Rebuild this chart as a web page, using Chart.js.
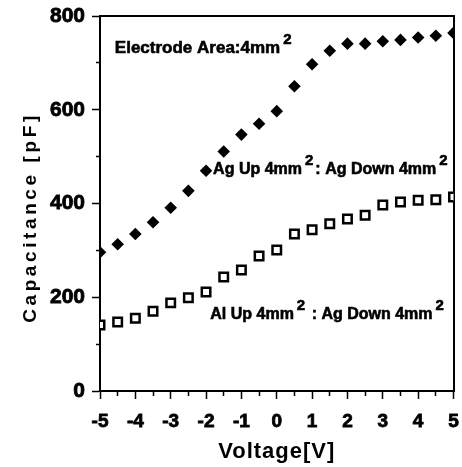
<!DOCTYPE html>
<html><head><meta charset="utf-8">
<script src="https://cdn.jsdelivr.net/npm/chart.js@4"></script>
<style>html,body{margin:0;padding:0;background:#fff}</style>
</head><body>
<canvas id="c" width="462" height="467"></canvas>
<script>
const voltages = [-5,-4.5,-4,-3.5,-3,-2.5,-2,-1.5,-1,-0.5,0,0.5,1,1.5,2,2.5,3,3.5,4,4.5,5];
const agUpAgDown = [296,313,335,360,391,427,470,511,547,570,597,650,697,726,741,741,746,749,754,758,764];
const alUpAgDown = [141,147,155,170,188,199,211,243,258,288,301,335,344,357,367,375,397,403,407,408,414];
const xTickValues = [-5,-4,-3,-2,-1,0,1,2,3,4,5];
const xTickLabels = ['-5','-4','-3','-2','-1','0','1','2','3','4','5'];
const yTickValues = [0,200,400,600,800];
const yTickLabels = ['0','200','400','600','800'];
const notes = [
  {x:-4.58, y:721, size:17, runs:[['Electrode Area:4mm',0],['2',1]]},
  {x:-1.80, y:463, size:16, runs:[['Ag Up 4mm',0],['2',1],[': Ag Down 4mm',0],['2',1]]},
  {x:-1.88, y:154, size:16, runs:[['Al Up 4mm',0],['2',1],[' : Ag Down 4mm',0],['2',1]]}
];

const FONT = '"Liberation Sans", Arial, sans-serif';

function wrapTitle(px, dy){
  return function(scale){
    if(!scale.__wrapped){
      const orig = scale.drawTitle;
      scale.drawTitle = function(...a){
        const c = this.ctx; const prev = c.letterSpacing;
        c.save();
        c.translate(0, dy);
        c.letterSpacing = px; orig.apply(this, a); c.letterSpacing = prev;
        c.restore();
      };
      scale.__wrapped = true;
    }
  };
}

const notePlugin = {
  id: 'notes',
  afterDatasetsDraw(chart){
    const ctx = chart.ctx, xs = chart.scales.x, ys = chart.scales.y;
    ctx.save();
    ctx.fillStyle = '#000';
    ctx.strokeStyle = '#000';
    ctx.lineWidth = 0.6;
    ctx.textBaseline = 'alphabetic';
    ctx.textAlign = 'left';
    ctx.letterSpacing = '0px';
    notes.forEach(n => {
      let px = xs.getPixelForValue(n.x);
      const py = ys.getPixelForValue(n.y);
      n.runs.forEach(([t, sup]) => {
        if (sup) {
          ctx.font = 'bold 15px ' + FONT;
          px += 3;
          ctx.fillText(t, px, py - 9);
          ctx.strokeText(t, px, py - 9);
          px += ctx.measureText(t).width + 2;
        } else {
          ctx.font = 'bold ' + n.size + 'px ' + FONT;
          ctx.fillText(t, px, py);
          ctx.strokeText(t, px, py);
          px += ctx.measureText(t).width;
        }
      });
    });
    ctx.restore();
  }
};

const lookup = (vals, labels) => v => { const i = vals.indexOf(v); return i >= 0 ? labels[i] : ''; };

new Chart(document.getElementById('c'), {
  type: 'scatter',
  data: {
    datasets: [
      {
        label: 'Ag Up 4mm2 : Ag Down 4mm2',
        data: voltages.map((v,i) => ({x:v, y:agUpAgDown[i]})),
        pointStyle: 'rectRot', pointRadius: 6.3, pointHoverRadius: 6.3,
        backgroundColor: '#000', borderColor: '#000', borderWidth: 0
      },
      {
        label: 'Al Up 4mm2 : Ag Down 4mm2',
        data: voltages.map((v,i) => ({x:v, y:alUpAgDown[i]})),
        pointStyle: 'rect', pointRadius: 6, pointHoverRadius: 6,
        backgroundColor: '#fff', borderColor: '#000', borderWidth: 2.5
      }
    ]
  },
  options: {
    responsive: false, animation: false, devicePixelRatio: 1,
    layout: {padding: 0},
    plugins: {legend: {display: false}, tooltip: {enabled: false}},
    scales: {
      x: {
        type: 'linear', position: 'bottom', min: -5, max: 5,
        ticks: {stepSize: 0.5, autoSkip: false, maxRotation: 0, padding: 11, color: '#000',
          textStrokeColor: '#000', textStrokeWidth: 0.8,
          font: {family: FONT, size: 19, weight: 'bold'},
          callback: lookup(xTickValues, xTickLabels)},
        grid: {drawOnChartArea: false, drawTicks: true, tickLength: 8, tickWidth: 1.5, tickColor: '#000',
          tickBorderDash: c => (c.tick && xTickValues.includes(c.tick.value)) ? [] : [4, 100]},
        border: {display: true, color: '#000', width: 2},
        title: {display: true, text: 'Voltage[V]', color: '#000',
          font: {family: FONT, size: 22, weight: 'bold'}, padding: {top: 0, bottom: 2}},
        afterFit(s){ s.height = 76; s.paddingLeft = 0; s.paddingRight = 0; wrapTitle('1px', 0)(s); }
      },
      y: {
        type: 'linear', position: 'left', min: 0, max: 800,
        ticks: {stepSize: 100, autoSkip: false, padding: 7, color: '#000',
          textStrokeColor: '#000', textStrokeWidth: 0.8,
          font: {family: FONT, size: 21, weight: 'bold'},
          callback: lookup(yTickValues, yTickLabels)},
        grid: {drawOnChartArea: false, drawTicks: true, tickLength: 8, tickWidth: 1.5, tickColor: '#000',
          tickBorderDash: c => (c.tick && yTickValues.includes(c.tick.value)) ? [] : [0, 4, 4, 100]},
        border: {display: true, color: '#000', width: 2},
        title: {display: true, text: 'Capacitance [pF]', color: '#000',
          font: {family: FONT, size: 19, weight: 'bold'}, padding: {top: 19, bottom: 0}},
        afterFit(s){ s.width = 100; s.paddingTop = 0; s.paddingBottom = 0; wrapTitle('3.6px', 14)(s); }
      },
      xTop: {
        axis: 'x', type: 'linear', position: 'top', min: -5, max: 5,
        ticks: {display: false}, grid: {display: true, drawOnChartArea: false, drawTicks: false},
        border: {display: true, color: '#000', width: 2},
        afterFit(s){ s.height = 16; s.paddingLeft = 0; s.paddingRight = 0; }
      },
      yRight: {
        axis: 'y', type: 'linear', position: 'right', min: 0, max: 800,
        ticks: {display: false}, grid: {display: true, drawOnChartArea: false, drawTicks: false},
        border: {display: true, color: '#000', width: 2},
        afterFit(s){ s.width = 2; s.paddingTop = 0; s.paddingBottom = 0; }
      }
    }
  },
  plugins: [notePlugin]
});
</script>
</body></html>
